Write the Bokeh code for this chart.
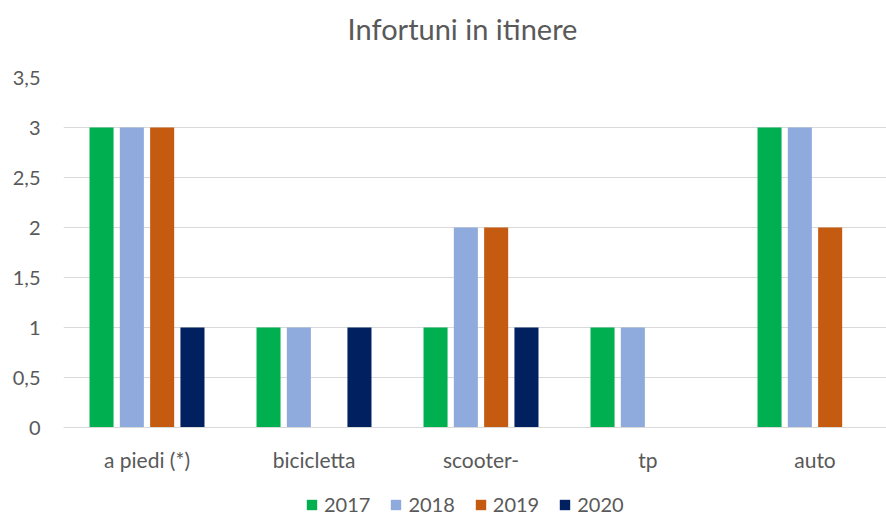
from bokeh.plotting import figure
from bokeh.models import ColumnDataSource, FixedTicker, Legend, LegendItem, Label
from bokeh.layouts import column
from bokeh.embed import file_html
from bokeh.resources import INLINE

categories = ["a piedi (*)", "bicicletta", "scooter-", "tp", "auto"]
years = ["2017", "2018", "2019", "2020"]
v2017 = [3, 1, 1, 1, 3]
v2018 = [3, 1, 2, 1, 3]
v2019 = [3, 0, 2, 0, 2]
v2020 = [1, 1, 1, 0, 0]
colors = ["#00B050", "#8FAADC", "#C55A11", "#002060"]
y_ticks = [0, 0.5, 1, 1.5, 2, 2.5, 3, 3.5]
y_tick_labels = ["0", "0,5", "1", "1,5", "2", "2,5", "3", "3,5"]
chart_title = "Infortuni in itinere"

FONT = "Lato"
TXT = "#595959"
W = 886
H_TITLE, H_MAIN, H_LEG = 46, 438, 32


def bare(h):
    f = figure(width=W, height=h, output_backend="svg", toolbar_location=None,
               x_range=(0, 1), y_range=(0, 1), x_axis_location=None, y_axis_location=None,
               min_border=0)
    f.outline_line_color = None
    f.grid.visible = False
    f.border_fill_color = "white"
    return f


# title strip
pt = bare(H_TITLE)
pt.add_layout(Label(x=399, y=18, x_units="screen", y_units="screen", text=chart_title,
                    text_align="center", text_baseline="middle", text_font=FONT,
                    text_font_size="29px", text_color=TXT))

# main chart
p = figure(width=W, height=H_MAIN, output_backend="svg", toolbar_location=None,
           x_range=(0, 823 / 167), y_range=(0, 3.5),
           min_border_left=63, min_border_right=0, min_border_top=31, min_border_bottom=57)
p.outline_line_color = None
p.background_fill_color = "white"
p.border_fill_color = "white"

series = [v2017, v2018, v2019, v2020]
step = 0.1815
bw = 0.144
for i, (yr, vals, col) in enumerate(zip(years, series, colors)):
    xs = [k + 0.5 + (i - 1.5) * step for k in range(len(categories))]
    src = ColumnDataSource(dict(x=xs, top=vals))
    p.vbar(x="x", top="top", width=bw, source=src, fill_color=col, line_color=None)

p.xaxis.ticker = FixedTicker(ticks=[k + 0.5 for k in range(len(categories))])
p.xaxis.major_label_overrides = {k + 0.5: c for k, c in enumerate(categories)}
p.xaxis.axis_line_color = "#D9D9D9"
p.xaxis.major_tick_line_color = None
p.xaxis.minor_tick_line_color = None
p.xaxis.major_label_text_font = FONT
p.xaxis.major_label_text_font_size = "21px"
p.xaxis.major_label_text_color = TXT
p.xaxis.major_label_standoff = 13

p.yaxis.ticker = FixedTicker(ticks=y_ticks)
p.yaxis.major_label_overrides = {t: l for t, l in zip(y_ticks, y_tick_labels)}
p.yaxis.axis_line_color = None
p.yaxis.major_tick_line_color = None
p.yaxis.minor_tick_line_color = None
p.yaxis.major_label_text_font = FONT
p.yaxis.major_label_text_font_size = "20px"
p.yaxis.major_label_text_color = TXT
p.yaxis.major_label_standoff = 17

p.xgrid.grid_line_color = None
p.ygrid.grid_line_color = "#D9D9D9"
p.ygrid.ticker = FixedTicker(ticks=y_ticks)

# legend strip (swatch renderers sit outside the strip's visible range)
pl = bare(H_LEG)
items = []
for yr, col in zip(years, colors):
    src = ColumnDataSource(dict(x=[-5], top=[0]))
    r = pl.vbar(x="x", top="top", width=0.1, source=src, fill_color=col, line_color=None)
    items.append(LegendItem(label=yr, renderers=[r]))
legend = Legend(items=items, orientation="horizontal", location=(242, 0),
                glyph_width=13, glyph_height=13, label_standoff=6, spacing=19,
                label_text_font=FONT, label_text_font_size="20px", label_text_color=TXT,
                border_line_color=None, background_fill_alpha=0, margin=0, padding=0)
pl.add_layout(legend)

layout = column(pt, p, pl, spacing=0)
open("out.html", "w").write(file_html(layout, INLINE))
